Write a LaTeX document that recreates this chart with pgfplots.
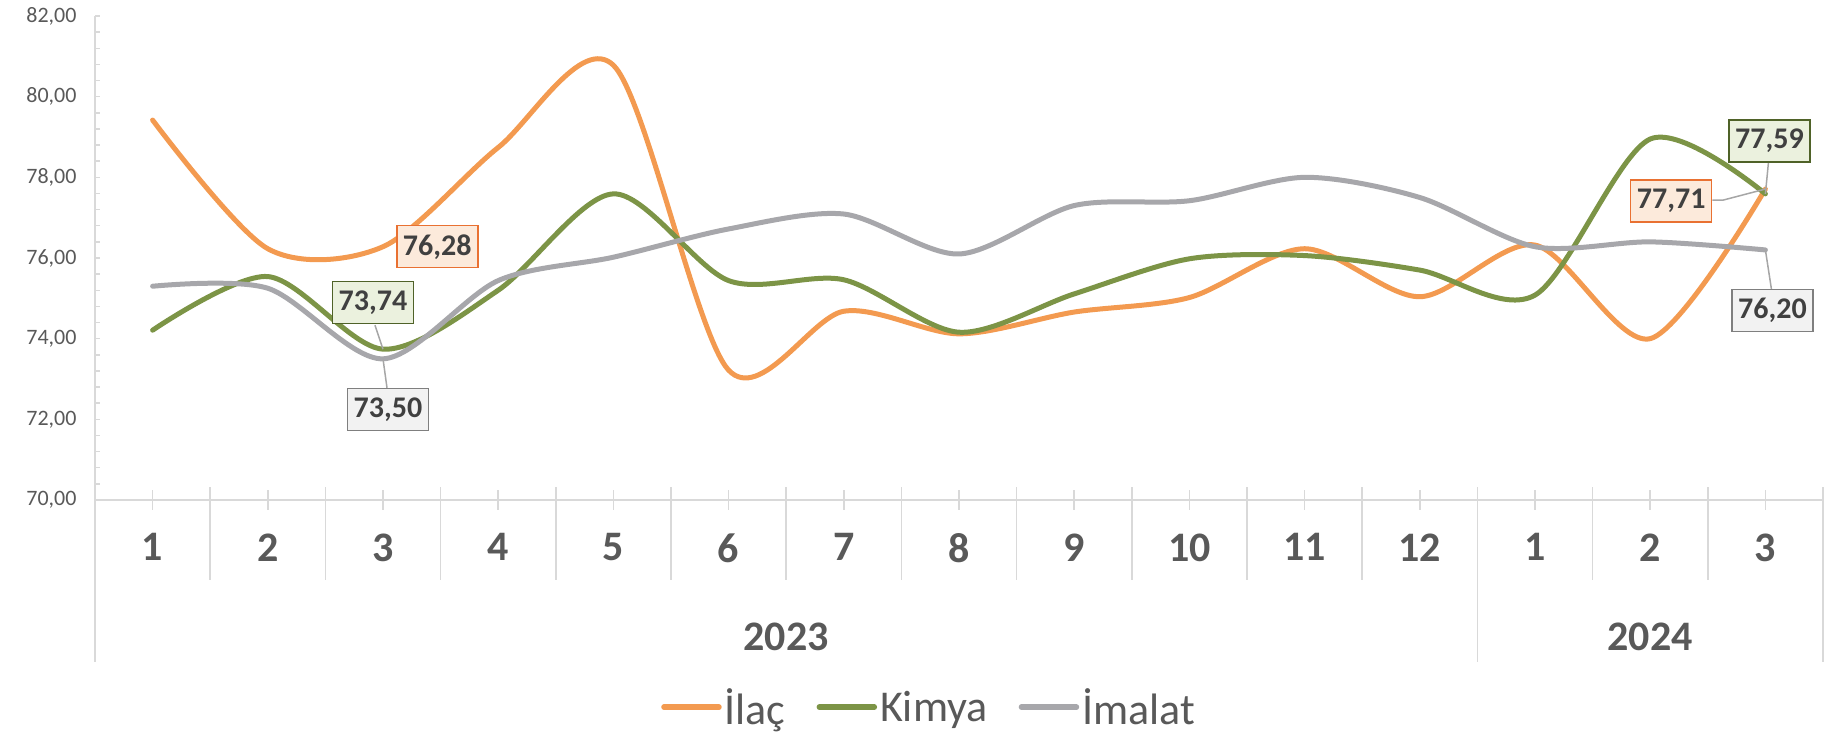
\documentclass[border=0pt]{standalone}
\usepackage{pgfplots}
\usepackage{pgfplotstable}
\pgfplotsset{compat=1.18}
\usepackage{fontspec}
\setmainfont{Carlito}
\definecolor{ilac}{HTML}{F39A50}
\definecolor{kimya}{HTML}{7C9446}
\definecolor{imalat}{HTML}{A7A7AB}
\definecolor{axgray}{HTML}{D9D9D9}
\definecolor{labgray}{HTML}{595959}
\definecolor{txtdark}{HTML}{404040}
\definecolor{ilacfill}{HTML}{FCEADB}
\definecolor{ilacedge}{HTML}{E97132}
\definecolor{kimyafill}{HTML}{EBF1DE}
\definecolor{kimyaedge}{HTML}{4F6228}
\definecolor{imalatfill}{HTML}{F2F2F2}
\definecolor{imalatedge}{HTML}{7F7F7F}
\definecolor{leadcol}{HTML}{A6A6A6}

\pgfplotstableread{
x ilac kimya imalat
1  79.42 74.21 75.30
2  76.23 75.54 75.25
3  76.28 73.74 73.50
4  78.74 75.20 75.44
5  80.78 77.59 76.02
6  73.22 75.44 76.72
7  74.68 75.46 77.09
8  74.12 74.16 76.10
9  74.66 75.11 77.30
10 75.02 75.98 77.42
11 76.23 76.06 78.00
12 75.04 75.70 77.50
13 76.32 75.08 76.28
14 74.00 78.95 76.40
15 77.71 77.59 76.20
}\data

\tikzset{
  lab/.style={font=\fontsize{30}{32}\selectfont\bfseries, text=txtdark, line width=1.5pt,
    minimum width=81pt, minimum height=42pt, inner sep=2pt},
  leader/.style={draw=leadcol, line width=1.5pt},
  sep/.style={draw=axgray, line width=1.5pt}
}

\begin{document}
\begin{tikzpicture}
\useasboundingbox (0,0) rectangle (1825pt,737pt);
\begin{axis}[
  at={(95pt,237pt)}, anchor=south west,
  width=1728pt, height=484pt, scale only axis,
  xmin=0.5, xmax=15.5, ymin=70, ymax=82,
  clip=false,
  axis x line*=bottom, axis y line*=left,
  axis line style={draw=axgray, line width=1.5pt},
  xtick={1,...,15},
  xticklabels={1,2,3,4,5,6,7,8,9,10,11,12,1,2,3},
  x tick style={draw=none},
  ytick={70,72,...,82}, minor y tick num=4,
  major tick length=5pt, minor tick length=5pt,
  y tick style={draw=axgray, line width=1.5pt},
  yticklabel style={font=\fontsize{22}{24}\selectfont, text=labgray, xshift=-15pt,
    /pgf/number format/.cd, fixed, fixed zerofill, precision=2, use comma, assume math mode=true},
  xticklabel style={font=\fontsize{42}{46}\selectfont\bfseries, text=labgray, yshift=-30pt},
  legend style={at={(0.483,-0.428)}, anchor=center, draw=none, fill=none,
    legend columns=-1, font=\fontsize{44}{46}\selectfont, text=labgray,
    nodes={inner xsep=3pt, inner ysep=1pt},
    /tikz/every even column/.append style={column sep=28pt}},
  legend image code/.code={\draw[#1, line width=5.5pt, line cap=round] (0pt,0pt) -- (55pt,0pt);},
]
% separators and tick marks of the category axis
\pgfplotsinvokeforeach{1.5,2.5,3.5,4.5,5.5,6.5,7.5,8.5,9.5,10.5,11.5,13.5,14.5}{
  \draw[sep] ([yshift=13pt]axis cs:#1,70) -- ([yshift=-80pt]axis cs:#1,70);
}
\pgfplotsinvokeforeach{1,2,3,4,5,6,7,8,9,10,11,12,13,14,15}{
  \draw[sep] ([yshift=10pt]axis cs:#1,70) -- ([yshift=-10pt]axis cs:#1,70);
}
\draw[sep] (axis cs:0.5,70) -- ([yshift=-162pt]axis cs:0.5,70);
\draw[sep] ([yshift=13pt]axis cs:12.5,70) -- ([yshift=-162pt]axis cs:12.5,70);
\draw[sep] ([yshift=13pt]axis cs:15.5,70) -- ([yshift=-162pt]axis cs:15.5,70);
\node[font=\fontsize{42}{46}\selectfont\bfseries, text=labgray] at ([yshift=-137pt]axis cs:6.5,70) {2023};
\node[font=\fontsize{42}{46}\selectfont\bfseries, text=labgray] at ([yshift=-137pt]axis cs:14,70) {2024};

\addplot[ilac, line width=5pt, smooth, line cap=round, line join=round] table[x=x,y=ilac]{\data};
\addlegendentry{İlaç}
\addplot[kimya, line width=5pt, smooth, line cap=round, line join=round] table[x=x,y=kimya]{\data};
\addlegendentry{Kimya}
\addplot[imalat, line width=5pt, smooth, line cap=round, line join=round] table[x=x,y=imalat]{\data};
\addlegendentry{İmalat}

% leader lines
\draw[leader] (axis cs:3,73.74) -- ([xshift=-8pt,yshift=24pt]axis cs:3,73.74);
\draw[leader] (axis cs:3,73.50) -- ([xshift=4pt,yshift=-29pt]axis cs:3,73.50);
\draw[leader] (axis cs:15,77.71) -- ([xshift=-42pt,yshift=-11pt]axis cs:15,77.71) -- ([xshift=-53pt,yshift=-11pt]axis cs:15,77.71);
\draw[leader] (axis cs:15,77.59) -- ([xshift=3pt,yshift=31pt]axis cs:15,77.59);
\draw[leader] (axis cs:15,76.20) -- ([xshift=6pt,yshift=-39pt]axis cs:15,76.20);

% data labels
\addplot[draw=none, forget plot, nodes near coords={76,28},
  every node near coord/.append style={lab, draw=ilacedge, fill=ilacfill, anchor=west, xshift=13pt}]
  coordinates {(3,76.28)};
\addplot[draw=none, forget plot, nodes near coords={73,74},
  every node near coord/.append style={lab, draw=kimyaedge, fill=kimyafill, anchor=south, xshift=-10pt, yshift=25pt}]
  coordinates {(3,73.74)};
\addplot[draw=none, forget plot, nodes near coords={73,50},
  every node near coord/.append style={lab, draw=imalatedge, fill=imalatfill, anchor=north, xshift=5pt, yshift=-29pt}]
  coordinates {(3,73.50)};
\addplot[draw=none, forget plot, nodes near coords={77,71},
  every node near coord/.append style={lab, draw=ilacedge, fill=ilacfill, anchor=east, xshift=-53pt, yshift=-12pt}]
  coordinates {(15,77.71)};
\addplot[draw=none, forget plot, nodes near coords={77,59},
  every node near coord/.append style={lab, draw=kimyaedge, fill=kimyafill, anchor=south, xshift=4pt, yshift=31pt}]
  coordinates {(15,77.59)};
\addplot[draw=none, forget plot, nodes near coords={76,20},
  every node near coord/.append style={lab, draw=imalatedge, fill=imalatfill, anchor=north, xshift=7pt, yshift=-39pt}]
  coordinates {(15,76.20)};
\end{axis}
\end{tikzpicture}
\end{document}
